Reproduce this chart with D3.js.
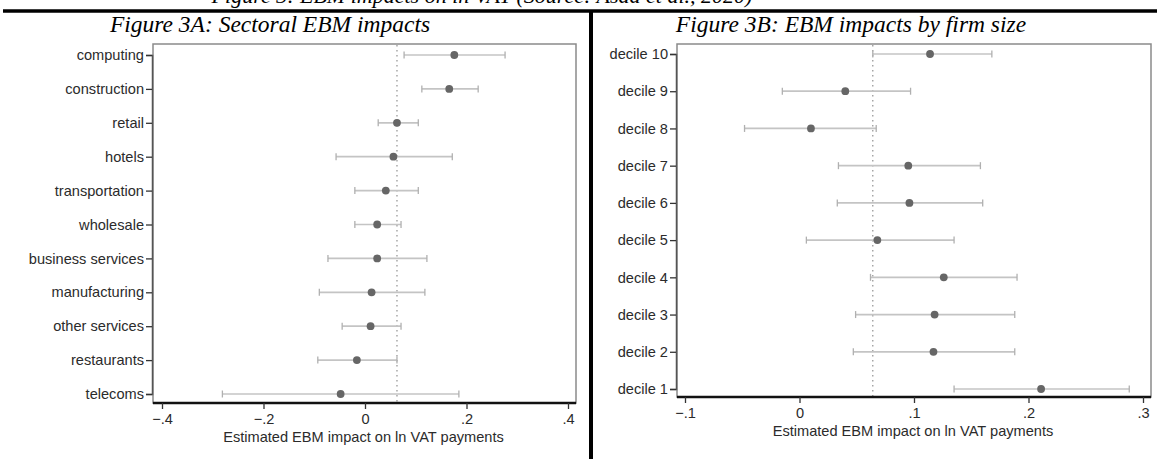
<!DOCTYPE html>
<html lang="en">
<head>
    <meta charset="UTF-8">
    <title>Figure 3: EBM impacts</title>
    <script type="text/javascript" src="https://cdn.jsdelivr.net/npm/d3@7"></script>
    <style type="text/css">
        body { margin: 0; background: #fff; }
        .ylab, .xlab, .xtitle { font-family: "Liberation Sans", Arial, sans-serif; fill: #2b2b2b; }
        .ttl { font-family: "Liberation Serif", "Times New Roman", serif; font-style: italic; fill: #000; }
    </style>
</head>
<body>
    <script type="text/javascript">

        var w = 1157;
        var h = 459;

        // Panel A: sectors (top to bottom)
        var sectors = ['computing', 'construction', 'retail', 'hotels', 'transportation', 'wholesale',
                       'business services', 'manufacturing', 'other services', 'restaurants', 'telecoms'];
        var sectorEst = [0.176, 0.166, 0.063, 0.056, 0.041, 0.024, 0.024, 0.013, 0.011, -0.016, -0.048];
        var sectorLo  = [0.077, 0.112, 0.026, -0.057, -0.020, -0.020, -0.073, -0.090, -0.045, -0.093, -0.281];
        var sectorHi  = [0.276, 0.223, 0.105, 0.172, 0.105, 0.071, 0.122, 0.118, 0.071, 0.063, 0.185];
        var sectorTicks = [-0.4, -0.2, 0, 0.2, 0.4];
        var sectorRef = 0.063;

        // Panel B: firm size deciles (top to bottom)
        var deciles = ['decile 10', 'decile 9', 'decile 8', 'decile 7', 'decile 6',
                       'decile 5', 'decile 4', 'decile 3', 'decile 2', 'decile 1'];
        var decileEst = [0.114, 0.040, 0.010, 0.095, 0.096, 0.068, 0.126, 0.118, 0.117, 0.211];
        var decileLo  = [0.064, -0.015, -0.048, 0.034, 0.033, 0.006, 0.062, 0.049, 0.047, 0.135];
        var decileHi  = [0.168, 0.097, 0.067, 0.158, 0.160, 0.135, 0.190, 0.188, 0.188, 0.288];
        var decileTicks = [-0.1, 0, 0.1, 0.2, 0.3];
        var decileRef = 0.064;

        var svg = d3.select("body")
            .append("svg")
            .attr("width", w)
            .attr("height", h);

        svg.append("rect").attr("width", w).attr("height", h).attr("fill", "#fff");

        // caption of the page, cut off at the very top in the original
        svg.append("text")
            .attr("class", "ttl")
            .attr("x", 482)
            .attr("y", 3)
            .attr("text-anchor", "middle")
            .attr("font-size", "22px")
            .text("Figure 3: EBM impacts on ln VAT (Source: Asad et al., 2020)");

        // frame lines
        svg.append("line").attr("x1", 3).attr("x2", w).attr("y1", 11).attr("y2", 11)
            .attr("stroke", "#000").attr("stroke-width", 3.5);
        svg.append("line").attr("x1", 591).attr("x2", 591).attr("y1", 10).attr("y2", h)
            .attr("stroke", "#000").attr("stroke-width", 4);

        function fmt(d) {
            if (d === 0) return "0";
            return d3.format(".1f")(d).replace("0.", ".");
        }

        function drawPanel(p) {
            var g = svg.append("g");

            var x = d3.scaleLinear().domain([p.ticks[0], p.ticks[p.ticks.length - 1]])
                .range([p.x0, p.x1]);
            var y = d3.scalePoint().domain(p.cats).range([p.y0, p.y1]);

            g.append("text")
                .attr("class", "ttl")
                .attr("x", p.titleX)
                .attr("y", 32)
                .attr("text-anchor", "middle")
                .attr("font-size", "23.5px")
                .text(p.title);

            // plot frame
            g.append("rect")
                .attr("x", p.left).attr("y", 44)
                .attr("width", p.right - p.left).attr("height", p.bottom - 44)
                .attr("fill", "none").attr("stroke", "#8a8a8a").attr("stroke-width", 1.5);

            // reference line
            g.append("line")
                .attr("x1", x(p.ref)).attr("x2", x(p.ref))
                .attr("y1", 45).attr("y2", p.bottom)
                .attr("stroke", "#999").attr("stroke-width", 1.3)
                .attr("stroke-dasharray", "1.5,3.5");

            // y axis
            var yAxis = g.append("g")
                .attr("transform", "translate(" + (p.left - 1) + ",0)")
                .call(d3.axisLeft(y).tickSize(6).tickPadding(2));
            yAxis.select(".domain").attr("stroke", "#555").attr("stroke-width", 1.5);
            yAxis.selectAll(".tick line").attr("stroke", "#333").attr("stroke-width", 1.3);
            yAxis.selectAll(".tick text").attr("class", "ylab").attr("font-size", "14.6px");

            // x axis
            var xAxis = g.append("g")
                .attr("transform", "translate(0," + p.bottom + ")")
                .call(d3.axisBottom(x).tickValues(p.ticks).tickFormat(fmt).tickSize(6).tickPadding(5));
            xAxis.select(".domain").attr("d", "M" + p.left + ",0H" + p.right)
                .attr("stroke", "#111").attr("stroke-width", 2.5);
            xAxis.selectAll(".tick line").attr("stroke", "#333").attr("stroke-width", 1.3);
            xAxis.selectAll(".tick text").attr("class", "xlab").attr("font-size", "14.6px");

            g.append("text")
                .attr("class", "xtitle")
                .attr("x", (p.left + p.right) / 2 - 1)
                .attr("y", p.bottom + 39)
                .attr("text-anchor", "middle")
                .attr("font-size", "14.6px")
                .text("Estimated EBM impact on ln VAT payments");

            var rows = p.cats.map(function(c, i) {
                return {cat: c, est: p.est[i], lo: p.lo[i], hi: p.hi[i]};
            });

            var bars = g.selectAll(".ci")
                .data(rows)
                .enter()
                .append("g")
                .attr("class", "ci");

            bars.append("line")
                .attr("x1", function(d) { return x(d.lo); })
                .attr("x2", function(d) { return x(d.hi); })
                .attr("y1", function(d) { return y(d.cat); })
                .attr("y2", function(d) { return y(d.cat); })
                .attr("stroke", "#c4c4c4").attr("stroke-width", 1.7);

            bars.selectAll(".cap")
                .data(function(d) { return [{v: d.lo, cat: d.cat}, {v: d.hi, cat: d.cat}]; })
                .enter()
                .append("line")
                .attr("class", "cap")
                .attr("x1", function(d) { return x(d.v); })
                .attr("x2", function(d) { return x(d.v); })
                .attr("y1", function(d) { return y(d.cat) - 3.5; })
                .attr("y2", function(d) { return y(d.cat) + 3.5; })
                .attr("stroke", "#b0b0b0").attr("stroke-width", 1.3);

            g.selectAll(".pt")
                .data(rows)
                .enter()
                .append("circle")
                .attr("class", "pt")
                .attr("cx", function(d) { return x(d.est); })
                .attr("cy", function(d) { return y(d.cat); })
                .attr("r", 3.9)
                .attr("fill", "#666");
        }

        drawPanel({
            title: "Figure 3A: Sectoral EBM impacts", titleX: 270,
            cats: sectors, est: sectorEst, lo: sectorLo, hi: sectorHi,
            ticks: sectorTicks, ref: sectorRef,
            x0: 162, x1: 568, y0: 55, y1: 394,
            left: 153, right: 576, bottom: 403
        });

        drawPanel({
            title: "Figure 3B: EBM impacts by firm size", titleX: 851,
            cats: deciles, est: decileEst, lo: decileLo, hi: decileHi,
            ticks: decileTicks, ref: decileRef,
            x0: 685, x1: 1143, y0: 54, y1: 389,
            left: 677, right: 1151, bottom: 397
        });

    </script>
</body>
</html>
